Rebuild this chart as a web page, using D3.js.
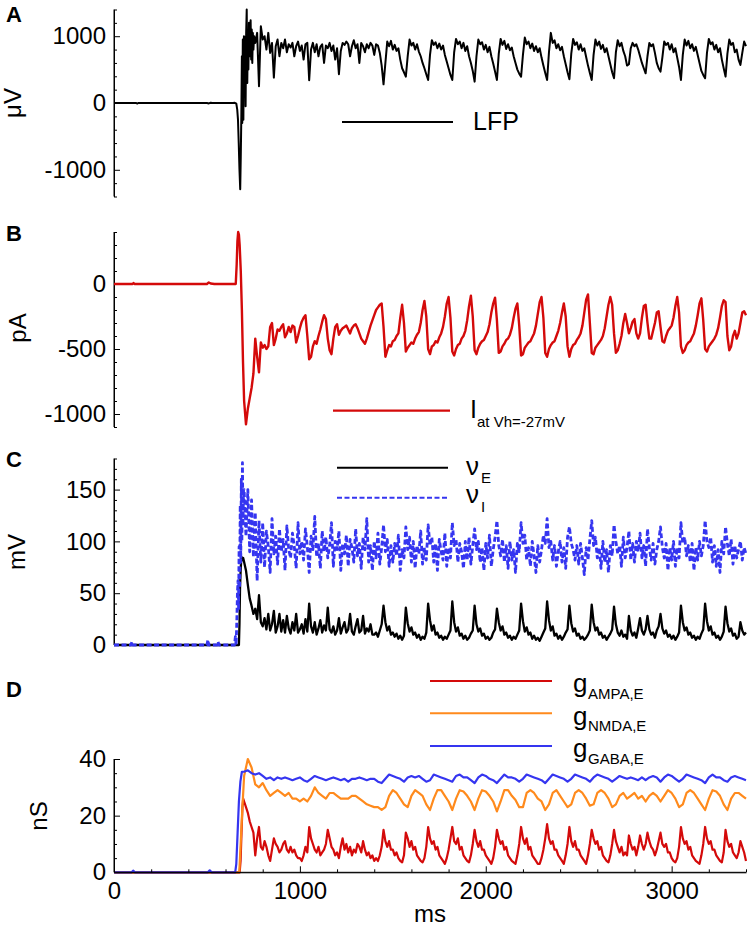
<!DOCTYPE html>
<html><head><meta charset="utf-8">
<script src="https://cdn.jsdelivr.net/npm/d3@7"></script>
<style>
body{margin:0;background:#fff}
text{font-family:"Liberation Sans",Arial,Helvetica,sans-serif;fill:#000}
</style>
</head><body>
<svg id="c" width="748" height="927"></svg>
<script>
// ---------------- DATA ----------------
const tMax = 3400;
const xTickValues = [0, 1000, 2000, 3000];
const xTickLabels = ["0", "1000", "2000", "3000"];
const xTitle = "ms";

// Panel A: LFP (uV). Onset pairs [t, v], then regular samples from lfpStart every 10 ms
const lfpPre = [[0,0],[120,0],[125,-8],[130,0],[500,0],[510,-6],[520,4],[530,0],[640,0],[650,3],[658,-10],[663,-100],[667,-250],[671,-600],[675,-1000],[679,-1290],[682,-800],[685,-200],[688,700],[690,-300],[693,950],[696,-250],[699,1000],[702,100],[705,980],[708,-50],[711,1050],[714,1400],[717,300],[720,1000],[723,500],[726,1200],[729,700],[732,1100],[735,1240],[738,650],[741,1100],[744,600],[747,1050],[750,800],[754,1000]];
const lfpStart = 760;
const lfp = [
900,1050,250,1150,950,1000,800,1050,750,900,
380,850,950,700,900,820,950,760,880,830,
900,700,850,920,780,860,650,880,900,340,
800,900,760,880,700,840,880,600,860,820,
900,780,860,650,820,430,780,900,870,920,
880,700,850,940,820,880,600,900,850,760,
880,820,900,860,720,880,860,750,560,280,
600,920,850,930,800,870,780,820,650,520,
460,395,700,950,860,900,800,880,770,700,
600,520,430,345,720,940,870,910,820,890,
800,860,720,620,520,420,345,760,960,880,
920,820,900,780,850,700,600,480,320,700,
950,880,910,800,870,760,840,700,590,470,
345,740,960,870,930,810,880,790,830,700,
600,500,440,395,720,980,880,920,820,890,
780,850,760,820,680,560,450,345,760,1050,
900,940,820,880,790,840,700,580,460,355,
740,960,870,910,800,880,780,820,690,560,
450,345,720,950,860,920,810,870,760,820,
700,580,460,370,760,940,850,900,780,700,
560,580,820,900,850,880,800,700,600,520,
445,700,900,850,880,750,600,520,470,680,
920,870,900,800,880,760,820,680,540,345,
720,950,860,930,820,880,780,840,720,600,
480,420,370,750,960,880,910,800,870,760,
820,650,520,395,740,950,870,900,760,800,
650,570,750,920,850];

// Panel B: current at Vh=-27mV (pA), samples from 700 every 10 ms
const curPre = [[0,0],[100,0],[105,8],[110,0],[500,0],[510,12],[520,4],[540,0],[655,0],[660,150],[664,330],[668,400],[672,380],[676,300],[682,100],[688,-200],[694,-600]];
const curStart = 700;
const cur = [
-900,-1080,-960,-880,-800,-690,-420,-560,-680,-450,
-490,-470,-500,-480,-330,-300,-470,-420,-350,-360,
-330,-310,-410,-380,-330,-370,-320,-330,-450,-400,
-340,-290,-260,-240,-400,-580,-560,-480,-440,-460,
-400,-350,-290,-240,-270,-420,-510,-540,-420,-330,
-310,-390,-360,-340,-330,-320,-350,-380,-340,-320,
-310,-340,-380,-420,-440,-460,-420,-370,-320,-280,
-240,-200,-180,-160,-150,-330,-560,-510,-470,-480,
-440,-430,-400,-380,-260,-160,-300,-520,-490,-470,
-450,-460,-420,-390,-370,-300,-200,-130,-250,-500,
-540,-480,-470,-440,-450,-410,-380,-330,-250,-150,
-100,-260,-520,-550,-500,-470,-460,-420,-400,-360,
-280,-170,-90,-250,-510,-540,-490,-460,-440,-430,
-400,-370,-310,-220,-150,-105,-280,-530,-520,-480,
-460,-430,-420,-390,-340,-260,-190,-150,-320,-550,
-540,-490,-470,-450,-440,-410,-380,-320,-230,-140,
-100,-260,-530,-560,-500,-470,-450,-440,-400,-360,
-300,-220,-150,-250,-480,-560,-500,-470,-460,-430,
-410,-380,-320,-220,-120,-80,-300,-530,-540,-490,
-470,-450,-430,-400,-340,-250,-160,-100,-160,-380,
-530,-510,-460,-400,-300,-230,-300,-380,-340,-290,
-270,-380,-420,-380,-260,-170,-160,-300,-420,-420,
-360,-300,-220,-210,-330,-440,-450,-400,-360,-340,
-320,-260,-170,-100,-220,-480,-530,-510,-470,-450,
-440,-410,-380,-320,-240,-150,-110,-280,-500,-520,
-480,-460,-440,-420,-390,-340,-260,-170,-125,-140,
-400,-510,-480,-400,-360,-420,-380,-300,-220,-210,
-240];

// Panel C: population rates, samples from 700 every 10 ms
const nuEPre = [[0,0],[672,0],[675,20],[678,55],[682,75],[686,85],[690,82],[695,84]];
const nuEStart = 700;
const nuE = [
80,72,58,45,38,30,35,25,48,22,
18,26,15,30,14,20,33,12,18,30,
13,24,12,28,16,11,22,14,30,12,
15,20,11,25,13,40,18,12,22,10,
16,24,12,19,14,36,15,12,18,10,
14,26,11,17,22,12,15,30,13,10,
18,25,12,14,28,11,16,13,20,10,
10,12,8,14,20,38,22,14,18,10,
12,8,11,6,9,5,9,36,21,13,
17,10,12,7,10,5,8,6,12,40,
24,14,19,10,12,7,9,5,8,6,
10,14,42,22,13,17,9,11,6,9,
5,7,11,14,38,20,13,16,9,11,
6,8,5,7,12,15,35,22,14,18,
10,12,7,9,5,8,6,10,14,40,
23,13,17,10,12,6,9,5,7,4,
8,12,16,42,24,14,18,9,11,6,
9,5,8,12,15,38,21,13,16,9,
11,6,8,5,7,10,14,39,22,14,
17,10,12,7,9,5,8,11,15,37,
20,12,9,14,8,10,6,28,14,9,
12,7,16,26,14,10,15,28,15,10,
12,7,14,18,30,16,11,14,8,10,
6,9,5,8,12,38,22,14,17,10,
12,7,9,5,8,6,11,15,40,23,
14,18,10,12,7,9,5,8,13,37,
21,13,16,9,11,6,8,22,14,10,
12];
const nuIPre = [[0,0],[92,0],[96,3],[100,0],[500,0],[505,5],[510,0],[555,0],[560,3],[565,0],[648,0],[653,8],[657,0],[661,25],[664,50],[667,62],[670,35],[673,95],[676,55],[679,135],[682,80],[685,160],[688,100],[691,176],[694,115],[697,150]];
const nuIStart = 700;
const nuI = [
150,105,150,90,140,85,128,62,120,80,
118,75,110,95,70,122,88,105,78,112,
90,102,72,115,92,84,108,95,74,118,
88,100,82,112,95,70,105,92,124,85,
98,74,110,90,104,84,96,118,76,100,
92,110,72,98,88,106,76,102,94,80,
112,86,98,74,104,92,122,80,96,72,
100,84,108,78,94,116,90,102,76,96,
80,98,86,106,72,92,84,114,92,104,
80,100,74,96,88,110,78,94,82,116,
96,104,80,98,72,102,90,82,108,76,
94,84,118,96,102,80,98,90,74,100,
82,104,78,96,112,92,100,80,94,72,
98,84,106,76,92,104,120,96,86,102,
80,96,74,100,82,92,70,98,90,118,
98,106,82,94,76,100,86,70,96,80,
92,106,98,122,94,100,82,96,76,90,
100,80,94,74,104,114,98,92,82,96,
78,98,84,68,94,82,102,120,96,104,
84,94,74,100,80,92,70,96,86,116,
100,88,96,76,104,84,94,110,82,98,
80,100,90,108,84,96,76,112,94,82,
98,78,92,100,114,94,84,98,72,94,
82,100,76,94,84,118,98,104,86,96,
80,98,72,94,82,100,86,96,120,100,
94,104,80,96,76,92,70,100,88,114,
98,86,102,78,96,84,92,100,82,94,
88];

// Panel D: conductances (nS)
const gAmpaPre = [[0,0],[676,0],[681,4],[686,14],[691,23],[695,26]];
const gAmpaStart = 700;
const gAmpa = [
25,23,21,18,16,14,6,12,16,9,
8,11,9,6,4,8,12,10,9,7,
8,10,11,8,7,9,7,8,6,5,
5,4,6,9,7,16,12,10,8,7,
9,6,7,8,10,15,12,9,8,6,
7,5,9,12,8,10,7,9,6,8,
7,10,9,7,11,8,6,7,5,6,
4,5,4,6,9,15,11,9,11,8,
8,6,7,5,4,3.5,6,14,12,9,
11,8,9,6,5,4,3.5,5,9,16,
12,10,11,8,9,6,5,4,3,5,
8,12,16,11,10,12,8,9,6,5,
4,3.5,6,10,15,11,9,11,8,8,
6,5,4,3,5,9,15,12,10,11,
8,9,6,5,4,3.5,3,6,10,16,
12,10,12,8,9,6,5,4,3,3,
5,8,12,17,12,10,11,8,8,6,
5,4,3,6,10,16,11,9,11,8,
8,6,5,4,3,6,10,15,12,10,
11,8,9,6,5,4,3.5,6,10,15,
11,9,7,9,6,7,6,13,10,8,
9,6,9,13,10,8,10,14,11,9,
8,6,8,11,14,10,9,10,7,7,
5,4,3.5,5,9,16,12,10,11,8,
9,6,5,4,3.5,3,6,10,16,12,
10,11,8,8,6,5,4,3.5,7,15,
11,9,10,7,6,5,7,11,9,7,
4];
const gNmdaPre = [[0,0],[674,0],[680,8],[690,22]];
const gNmdaStart = 700;
const gNmda = [
34,40,37,31,30,31.5,29,27,28,29,
28,27,28,26,26,25,26,25,27,30,
28,27,26,28,28,27,26,26,26,27,
27,26,25,24,23.5,23,23,22,23,27,
29,28,26,24,23,27,29,28,27,24,
22,26,29,29,27,25,22,26,29,28.5,
27,25,22,26,29,28.5,27,25,21.5,25,
29,29,27,25.5,23,23,28,29,28,26,
25,22,24,28,29,27,25,23,24,28,
29,28,26,23.5,24,28,29,28,26,23,
24,27,28,26,27,28,26,27,25,27,
28,27,25,27,29,28,26,23,24,28,
29,28,26,24,22,26,29,28.5,27,24,
22,26,28,28,27,26];
const gGabaPre = [[0,0],[95,0],[103,0.6],[112,0],[505,0],[515,0.7],[525,0],[652,0],[658,3],[665,14],[672,25],[680,32],[688,35.5]];
const gGabaStart = 700;
const gGaba = [
35.5,36,35,34.5,35,34,33,33.5,32.5,33.5,
33,33.5,33,32.5,33,33.5,32.5,32,33,34,
33.5,33,32.5,33,33.5,33,32.5,33,32,33,
33,33.5,33,32.5,33,33,32,31.5,33,34.5,
34,33.5,33,32,33.5,34,33.5,34,33,32,
32.5,34.5,34,33.5,33,32.5,32,34,34.5,33.5,
33.5,32.5,31.5,33.5,34.5,34,33,32.5,31.5,33,
34.5,33.5,33.5,33,32,33,34.5,34,33.5,33,
32.5,31.5,33,34.5,34,33.5,33,32,33,34.5,
34,33.5,33,32,33.5,34.5,34,33.5,33,32,
33,34,33.5,33,33.5,33,32.5,33.5,32.5,33.5,
34,33.5,32,33.5,34.5,34,33,32,33,34.5,
34,33.5,33,32.5,31.5,33.5,34.5,33.5,33.5,32.5,
32,33.5,34,33.5,33,32.5];

// ---------------- DRAW ----------------
const svg = d3.select("#c");
const x = d3.scaleLinear().domain([0, tMax]).range([114, 746]);

function build(pre, start, step, vals) {
  return pre.map(d => ({t: d[0], v: d[1]}))
    .concat(vals.map((v, i) => ({t: start + i * step, v: v})))
    .filter(d => d.t <= tMax);
}

function yAxis(y, major, minorStep) {
  const [lo, hi] = y.domain();
  const minor = d3.range(Math.ceil(lo / minorStep) * minorStep, hi + 1e-9, minorStep)
    .filter(v => !major.includes(v));
  const g = svg.append("g").attr("transform", "translate(114,0)");
  g.call(d3.axisLeft(y).tickValues(minor).tickSize(-3).tickSizeOuter(0).tickFormat(""));
  const g2 = g.append("g");
  g2.call(d3.axisLeft(y).tickValues(major).tickSize(-6).tickSizeOuter(0).tickPadding(8).tickFormat(d => String(d)));
  g.selectAll("path.domain").attr("stroke", "#000").attr("stroke-width", 1);
  g.selectAll("line").attr("stroke", "#000").attr("stroke-width", 1);
  g2.attr("font-size", null).attr("font-family", null);
  g2.selectAll("text").style("font-size", "24px").attr("fill", "#000");
  g.select("path.domain").attr("d", `M0,${y.range()[0]}V${y.range()[1]}`);
}

function drawLine(data, y, color, width, dash) {
  const p = svg.append("path").datum(data)
    .attr("fill", "none").attr("stroke", color).attr("stroke-width", width)
    .attr("stroke-linejoin", "round")
    .attr("d", d3.line().x(d => x(d.t)).y(d => y(d.v)));
  if (dash) p.attr("stroke-dasharray", dash);
}

function ylabel(txt, xb, yc) {
  svg.append("text").attr("transform", `translate(${xb},${yc}) rotate(-90)`)
    .attr("text-anchor", "middle").style("font-size", "24px").text(txt);
}
function letter(txt, yb) {
  svg.append("text").attr("x", 6).attr("y", yb).style("font-size", "22px")
    .style("font-weight", "bold").text(txt);
}
function legLine(x1, x2, y, color, width, dash) {
  const l = svg.append("line").attr("x1", x1).attr("x2", x2).attr("y1", y).attr("y2", y)
    .attr("stroke", color).attr("stroke-width", width);
  if (dash) l.attr("stroke-dasharray", dash);
}
function legText(main, sub, x0, yb, subX, subY, mainSize) {
  svg.append("text").attr("x", x0).attr("y", yb).style("font-size", mainSize + "px").text(main);
  if (sub) svg.append("text").attr("x", subX).attr("y", subY).style("font-size", "15px").text(sub);
}

const RED = "#d40a0a", ORANGE = "#ff8a1c", BLUE = "#3535f0";

// Panel A
const yA = d3.scaleLinear().domain([-1400, 1400]).range([196.5, 9.5]);
yAxis(yA, [-1000, 0, 1000], 200);
drawLine(build(lfpPre, lfpStart, 10, lfp), yA, "#000", 2);
ylabel("μV", 21, 103);
letter("A", 22);
legLine(342, 453, 122, "#000", 2);
legText("LFP", null, 473, 130, 0, 0, 25);

// Panel B
const yB = d3.scaleLinear().domain([-1100, 400]).range([427, 232]);
yAxis(yB, [-1000, -500, 0], 100);
drawLine(build(curPre, curStart, 10, cur), yB, RED, 2.4);
ylabel("pA", 26, 328);
letter("B", 241);
legLine(333, 450, 410.7, RED, 2.2);
legText("I", "at Vh=-27mV", 470, 418, 477, 426.5, 25);

// Panel C
const yC = d3.scaleLinear().domain([0, 180]).range([645, 458.5]);
yAxis(yC, [0, 50, 100, 150], 10);
drawLine(build(nuEPre, nuEStart, 10, nuE), yC, "#000", 2.3);
drawLine(build(nuIPre, nuIStart, 10, nuI), yC, BLUE, 2.8, "5,2.5");
ylabel("mV", 25, 552);
letter("C", 467);
legLine(337, 448, 467.7, "#000", 2);
legLine(337, 448, 497.7, BLUE, 2, "5,2.5");
legText("ν", "E", 466, 475, 481, 483, 26);
legText("ν", "I", 466, 503, 481, 512, 26);

// Panel D
const yD = d3.scaleLinear().domain([0, 40]).range([872.3, 759]);
yAxis(yD, [0, 20, 40], 5);
drawLine(build(gAmpaPre, gAmpaStart, 10, gAmpa), yD, RED, 2.2);
drawLine(build(gNmdaPre, gNmdaStart, 20, gNmda), yD, ORANGE, 2.2);
drawLine(build(gGabaPre, gGabaStart, 20, gGaba), yD, BLUE, 2.2);
ylabel("nS", 47, 816);
letter("D", 697);
legLine(430, 552, 681, RED, 2);
legLine(430, 552, 713.3, ORANGE, 2);
legLine(430, 552, 746, BLUE, 2);
legText("g", "AMPA,E", 573, 692, 588, 699, 26);
legText("g", "NMDA,E", 573, 724.5, 588, 731, 26);
legText("g", "GABA,E", 573, 757, 588, 763.5, 26);

// X axis (bottom of D)
const minorX = d3.range(0, tMax + 1e-9, 200).filter(v => !xTickValues.includes(v));
const gx = svg.append("g").attr("transform", "translate(0,872.3)");
gx.call(d3.axisBottom(x).tickValues(minorX).tickSize(-3).tickSizeOuter(0).tickFormat(""));
const gx2 = gx.append("g");
gx2.call(d3.axisBottom(x).tickValues(xTickValues).tickSize(-6).tickSizeOuter(0).tickPadding(10)
  .tickFormat((d, i) => xTickLabels[i]));
gx.selectAll("path.domain").attr("stroke", "#000").attr("stroke-width", 1);
gx.selectAll("line").attr("stroke", "#000");
gx2.attr("font-size", null).attr("font-family", null);
gx2.selectAll("text").style("font-size", "24px").attr("fill", "#000");
gx.select("path.domain").attr("d", "M114,0H746");
svg.append("text").attr("x", 430).attr("y", 922).attr("text-anchor", "middle")
  .style("font-size", "24px").text(xTitle);
</script>
</body></html>
